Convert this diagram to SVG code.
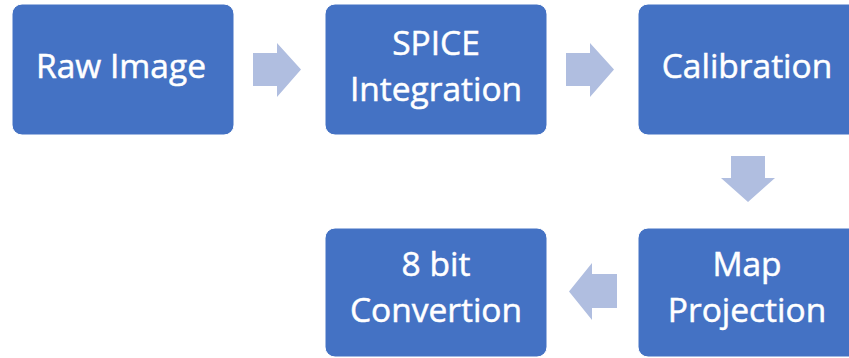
<svg xmlns="http://www.w3.org/2000/svg" width="849" height="358" viewBox="0 0 849 358">
<style>
.box{fill:#4472C4;stroke:#ffffff;stroke-width:1}
.lbl{font-family:"Open Sans","Noto Sans","DejaVu Sans",sans-serif;font-size:33.5px;fill:#ffffff;stroke:#ffffff;stroke-width:0.5;text-anchor:middle}
.arr{fill:#B0BEE0}
</style>
<rect width="849" height="358" fill="#ffffff"/>
<g id="connectors">
<polygon class="arr" points="253,53 277,53 277,43 301,69.5 277,97 277,86 253,86"/>
<polygon class="arr" points="566,53 590,53 590,43 614,69.5 590,97 590,86 566,86"/>
<polygon class="arr" points="731,156 765,156 765,178 775,178 748,202 721,178 731,178"/>
<polygon class="arr" points="617,274 592,274 592,263 569,291.5 592,320 592,308 617,308"/>
</g>
<g id="node-raw-image">
<rect class="box" x="12" y="4" width="222" height="131" rx="10"/>
<text class="lbl" x="121" y="78">Raw Image</text>
</g>
<g id="node-spice">
<rect class="box" x="325" y="4" width="222" height="131" rx="10"/>
<text class="lbl" x="436" y="55">SPICE</text>
<text class="lbl" x="436" y="101">Integration</text>
</g>
<g id="node-calibration">
<rect class="box" x="638" y="4" width="222" height="131" rx="10"/>
<text class="lbl" x="747" y="78">Calibration</text>
</g>
<g id="node-map-projection">
<rect class="box" x="638" y="228" width="222" height="129" rx="10"/>
<text class="lbl" x="747" y="276">Map</text>
<text class="lbl" x="747" y="322">Projection</text>
</g>
<g id="node-8bit">
<rect class="box" x="325" y="228" width="222" height="129" rx="10"/>
<text class="lbl" x="436" y="276">8 bit</text>
<text class="lbl" x="436" y="322">Convertion</text>
</g>
</svg>
